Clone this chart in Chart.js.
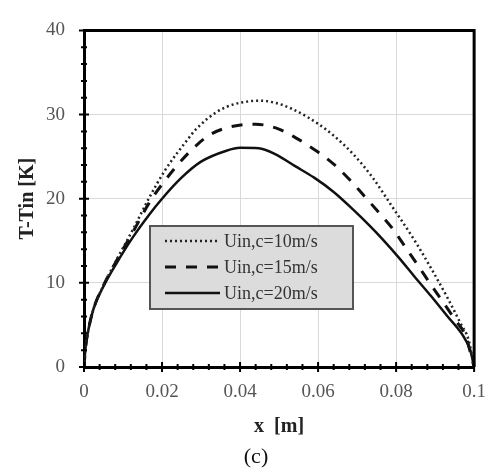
<!DOCTYPE html>
<html>
<head>
<meta charset="utf-8">
<script src="https://cdn.jsdelivr.net/npm/chart.js@4"></script>
<style>
  html, body { margin: 0; padding: 0; background: #fff; }
  #wrap { width: 500px; height: 473px; }
</style>
</head>
<body>
<div id="wrap"><canvas id="c" width="500" height="473"></canvas></div>
<script>
// Values
const seriesLabels = ['Uin,c=10m/s', 'Uin,c=15m/s', 'Uin,c=20m/s'];

const x10 = [0, 0.0004, 0.0012, 0.0025, 0.005, 0.0083, 0.0125, 0.0167, 0.0208, 0.0265, 0.029, 0.034, 0.0365, 0.04, 0.0448, 0.049, 0.0532, 0.0573, 0.06, 0.064, 0.069, 0.074, 0.0785, 0.0848, 0.089, 0.0932, 0.0965, 0.0986, 0.1];
const t10 = [0, 2.3, 4.6, 7.0, 9.7, 12.7, 16.3, 20.1, 23.4, 27.0, 28.4, 30.3, 30.9, 31.4, 31.65, 31.4, 30.7, 29.7, 28.9, 27.5, 25.3, 22.5, 19.4, 15.0, 11.7, 8.2, 5.2, 3.2, 0];

const x15 = [0, 0.0004, 0.0012, 0.0025, 0.005, 0.0083, 0.0125, 0.0167, 0.02, 0.0265, 0.0323, 0.0382, 0.044, 0.0498, 0.0544, 0.0598, 0.064, 0.0678, 0.0715, 0.0753, 0.079, 0.0823, 0.0857, 0.0886, 0.0919, 0.0953, 0.0978, 0.1];
const t15 = [0, 2.3, 4.6, 7.0, 9.7, 12.6, 16.0, 19.5, 21.7, 25.3, 27.6, 28.6, 28.85, 28.3, 27.2, 25.6, 24.1, 22.4, 20.5, 18.5, 16.5, 14.3, 12.0, 10.0, 7.8, 5.5, 3.7, 0];

const x20 = [0, 0.0004, 0.0012, 0.0025, 0.005, 0.0083, 0.0125, 0.0167, 0.02, 0.025, 0.03, 0.0365, 0.04, 0.0448, 0.049, 0.054, 0.059, 0.064, 0.069, 0.0732, 0.0765, 0.0807, 0.0848, 0.089, 0.0932, 0.0969, 0.099, 0.1];
const t20 = [0, 2.3, 4.6, 7.0, 9.6, 12.3, 15.4, 18.1, 20.0, 22.5, 24.4, 25.7, 26.05, 26.0, 25.3, 23.9, 22.5, 20.8, 18.7, 16.8, 15.2, 13.0, 10.7, 8.4, 6.0, 3.9, 2.0, 0];

const xTickLabels = ['0', '0.02', '0.04', '0.06', '0.08', '0.1'];
const yTickLabels = ['0', '10', '20', '30', '40'];

const SERIF = "'Liberation Serif', 'Times New Roman', serif";

function pts(xs, ys) {
    return xs.map((x, i) => ({ x: x, y: ys[i] }));
}

// Frame on top/right plus major and minor ticks that cross the axes
const frameTicksPlugin = {
    id: 'frameTicks',
    afterDraw(chart) {
        const { ctx, chartArea: { top, bottom, left, right }, scales: { x, y } } = chart;
        ctx.save();
        ctx.strokeStyle = '#000';
        ctx.lineWidth = 3;
        ctx.beginPath();
        ctx.moveTo(left, top);
        ctx.lineTo(right, top);
        ctx.lineTo(right, bottom);
        ctx.stroke();

        ctx.lineWidth = 2;
        ctx.beginPath();
        for (let v = 0; v <= 0.1 + 1e-9; v += 0.004) {
            const px = x.getPixelForValue(v);
            const major = Math.abs(v / 0.02 - Math.round(v / 0.02)) < 1e-6;
            const len = major ? 5 : 3;
            ctx.moveTo(px, bottom - len);
            ctx.lineTo(px, bottom + len);
        }
        for (let v = 0; v <= 40; v += 2) {
            const py = y.getPixelForValue(v);
            const len = v % 10 === 0 ? 5 : 3;
            ctx.moveTo(left - len, py);
            ctx.lineTo(left + len, py);
        }
        ctx.stroke();

        // caption under the plot
        ctx.fillStyle = '#111';
        ctx.font = '22px ' + SERIF;
        ctx.textAlign = 'center';
        ctx.textBaseline = 'middle';
        ctx.fillText('(c)', 256, 457);
        ctx.restore();
    }
};

// Boxed legend inside the plot area
const boxLegendPlugin = {
    id: 'boxLegend',
    afterDatasetsDraw(chart) {
        const { ctx } = chart;
        const bx = 150, by = 226, bw = 203, bh = 83;
        ctx.save();
        ctx.fillStyle = '#dcdcdc';
        ctx.fillRect(bx, by, bw, bh);
        ctx.strokeStyle = '#555';
        ctx.lineWidth = 2;
        ctx.strokeRect(bx, by, bw, bh);

        ctx.font = '18px ' + SERIF;
        ctx.textAlign = 'left';
        ctx.textBaseline = 'middle';
        chart.data.datasets.forEach((ds, i) => {
            const yy = by + 15 + i * 26;
            ctx.strokeStyle = ds.borderColor;
            ctx.lineWidth = ds.borderWidth;
            ctx.setLineDash(ds.borderDash || []);
            ctx.beginPath();
            ctx.moveTo(bx + 15, yy);
            ctx.lineTo(bx + 70, yy);
            ctx.stroke();
            ctx.setLineDash([]);
            ctx.fillStyle = '#333';
            ctx.fillText(ds.label, bx + 74, yy + 1);
        });
        ctx.restore();
    }
};

new Chart(document.getElementById('c'), {
    type: 'line',
    data: {
        datasets: [{
            label: seriesLabels[0],
            data: pts(x10, t10),
            borderColor: '#222',
            borderWidth: 2.5,
            borderDash: [2, 3]
        }, {
            label: seriesLabels[1],
            data: pts(x15, t15),
            borderColor: '#111',
            borderWidth: 3,
            borderDash: [11, 10]
        }, {
            label: seriesLabels[2],
            data: pts(x20, t20),
            borderColor: '#111',
            borderWidth: 2.5,
            borderDash: []
        }]
    },
    options: {
        responsive: false,
        animation: false,
        layout: { padding: { left: 0, top: 20, right: 16, bottom: 32 } },
        elements: {
            point: { radius: 0 },
            line: { cubicInterpolationMode: 'monotone', fill: false }
        },
        plugins: {
            legend: { display: false },
            tooltip: { enabled: false }
        },
        scales: {
            x: {
                type: 'linear',
                min: 0,
                max: 0.1,
                afterFit: (s) => { s.height = 74; },
                ticks: {
                    stepSize: 0.02,
                    padding: 14,
                    color: '#555',
                    font: { family: SERIF, size: 19 },
                    callback: (v) => xTickLabels[Math.round(v / 0.02)]
                },
                grid: { color: '#d9d9d9', lineWidth: 1, drawTicks: false },
                border: { display: true, color: '#000', width: 3 },
                title: {
                    display: true,
                    text: 'x  [m]',
                    color: '#222',
                    font: { family: SERIF, size: 20, weight: 'bold' },
                    padding: { top: 0, bottom: 2 }
                }
            },
            y: {
                min: 0,
                max: 40,
                afterFit: (s) => { s.width = 84; },
                ticks: {
                    stepSize: 10,
                    padding: 19,
                    color: '#555',
                    font: { family: SERIF, size: 19 },
                    callback: (v) => yTickLabels[Math.round(v / 10)]
                },
                grid: { color: '#d9d9d9', lineWidth: 1, drawTicks: false },
                border: { display: true, color: '#000', width: 3 },
                title: {
                    display: true,
                    text: 'T-Tin [K]',
                    color: '#222',
                    font: { family: SERIF, size: 20, weight: 'bold' },
                    padding: { top: 16, bottom: 0 }
                }
            }
        }
    },
    plugins: [boxLegendPlugin, frameTicksPlugin]
});
</script>
</body>
</html>
